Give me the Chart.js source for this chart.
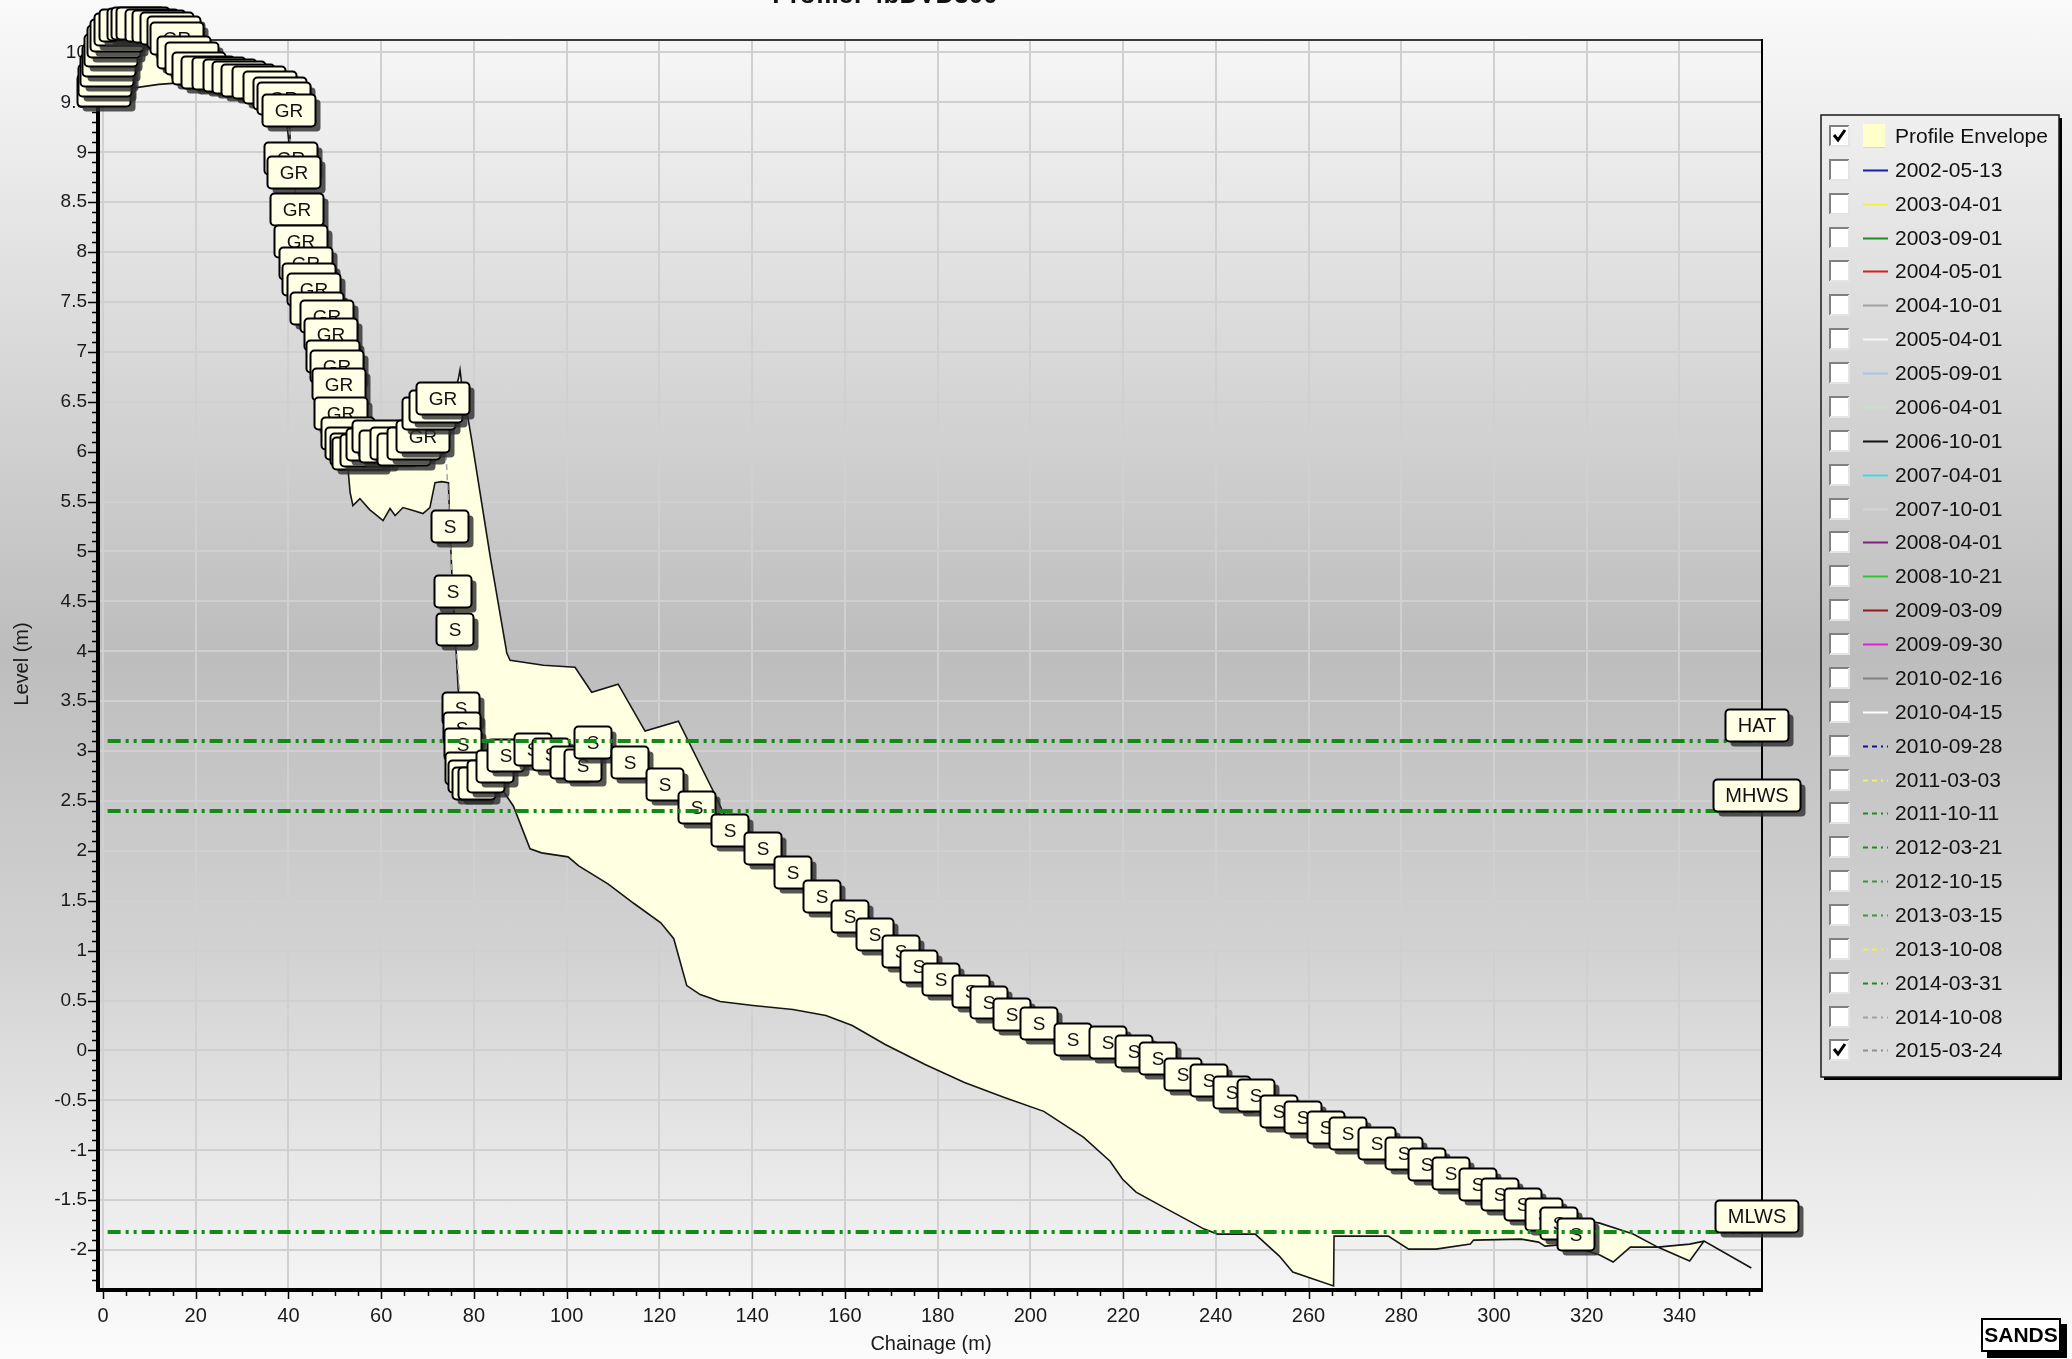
<!DOCTYPE html>
<html>
<head>
<meta charset="utf-8">
<title>Profile envelope</title>
<script src="https://cdn.jsdelivr.net/npm/chart.js@4.4.1/dist/chart.umd.min.js"></script>
<style>
    html, body { margin: 0; padding: 0; }
    body {
        width: 2072px; height: 1359px; overflow: hidden;
        background: linear-gradient(to bottom, #fafafa 0%, #d6d6d6 28%, #bdbdbd 48%, #d2d2d2 70%, #fcfcfc 100%);
    }
</style>
</head>
<body>
<canvas id="profileChart" width="2072" height="1359"></canvas>
<script>
const profileTitle = 'Profile: 4bDVD300';

const xTickValues = [0, 20, 40, 60, 80, 100, 120, 140, 160, 180, 200, 220, 240, 260, 280, 300, 320, 340];
const yTickValues = [-2, -1.5, -1, -0.5, 0, 0.5, 1, 1.5, 2, 2.5, 3, 3.5, 4, 4.5, 5, 5.5, 6, 6.5, 7, 7.5, 8, 8.5, 9, 9.5, 10];

// survey 2015-03-24 (the only one ticked besides the envelope)
const surveyChainage = [
    0.0, 0.4, 0.8, 1.2, 1.7, 2.3, 3.0, 3.8, 4.8, 6.5,
    7.5, 8.6, 10.4, 11.9, 13.6, 15.3, 15.9, 17.3, 19.0, 20.7,
    22.6, 25.0, 27.2, 29.3, 31.2, 33.6, 35.8, 38.0, 39.0, 40.1,
    40.5, 41.0, 41.8, 42.7, 43.6, 44.4, 45.3, 46.1, 48.1, 49.0,
    49.6, 50.3, 50.7, 51.3, 52.8, 53.5, 54.6, 55.2, 56.8, 58.2,
    59.5, 61.0, 63.2, 64.7, 66.9, 69.0, 70.3, 71.8, 73.3,
    74.8, 75.4, 75.9, 77.2, 77.4, 77.6, 77.8, 78.4, 79.2, 80.5,
    82.5, 84.5, 86.7, 92.7, 96.5, 100.3, 103.5, 105.6, 113.6, 121.0,
    128.1, 135.2, 142.2, 148.8, 155.0, 161.0, 166.4, 172.1, 175.8, 180.7,
    187.2, 190.9, 196.0, 201.8, 209.2, 216.6, 222.3, 227.4, 232.8, 238.5,
    243.4, 248.5, 253.6, 258.8, 263.6, 268.5, 274.7, 280.4, 285.5, 290.7,
    296.4, 301.2, 306.1, 310.6, 314.0, 317.5
];
const surveyLevel = [
    9.62, 9.72, 9.82, 9.92, 10.02, 10.11, 10.18, 10.24, 10.28, 10.29,
    10.30, 10.30, 10.28, 10.27, 10.25, 10.21, 10.15, 10.00, 9.94, 9.84,
    9.80, 9.79, 9.77, 9.75, 9.72, 9.70, 9.65, 9.59, 9.54, 9.42,
    8.94, 8.80, 8.43, 8.11, 7.89, 7.73, 7.63, 7.44, 7.36, 7.18,
    6.96, 6.86, 6.68, 6.39, 6.19, 6.09, 6.03, 5.99, 6.02, 6.08,
    6.16, 6.06, 6.09, 6.03, 6.09, 6.16, 6.39, 6.46, 6.54,
    5.26, 4.60, 4.22, 3.43, 3.23, 3.07, 2.83, 2.75, 2.68, 2.68,
    2.75, 2.85, 2.96, 3.02, 2.97, 2.89, 2.86, 3.09, 2.89, 2.67,
    2.44, 2.21, 2.03, 1.79, 1.55, 1.35, 1.17, 1.00, 0.85, 0.72,
    0.60, 0.49, 0.37, 0.28, 0.12, 0.08, -0.01, -0.08, -0.24, -0.30,
    -0.42, -0.45, -0.61, -0.67, -0.77, -0.83, -0.93, -1.03, -1.14, -1.23,
    -1.34, -1.44, -1.54, -1.64, -1.73, -1.84
];
const surveyCode = [
    'GR', 'GR', 'GR', 'GR', 'GR', 'GR', 'GR', 'GR', 'GR', 'GR',
    'GR', 'GR', 'GR', 'GR', 'GR', 'GR', 'GR', 'GR', 'GR', 'GR',
    'GR', 'GR', 'GR', 'GR', 'GR', 'GR', 'GR', 'GR', 'GR', 'GR',
    'GR', 'GR', 'GR', 'GR', 'GR', 'GR', 'GR', 'GR', 'GR', 'GR',
    'GR', 'GR', 'GR', 'GR', 'GR', 'GR', 'GR', 'GR', 'GR', 'GR',
    'GR', 'GR', 'GR', 'GR', 'GR', 'GR', 'GR', 'GR', 'GR',
    'S', 'S', 'S', 'S', 'S', 'S', 'S', 'S', 'S', 'S',
    'S', 'S', 'S', 'S', 'S', 'S', 'S', 'S', 'S', 'S',
    'S', 'S', 'S', 'S', 'S', 'S', 'S', 'S', 'S', 'S',
    'S', 'S', 'S', 'S', 'S', 'S', 'S', 'S', 'S', 'S',
    'S', 'S', 'S', 'S', 'S', 'S', 'S', 'S', 'S', 'S',
    'S', 'S', 'S', 'S', 'S', 'S'
];

// profile envelope: highest and lowest level of all surveys
const envUpperChainage = [
    0.0, 1.2, 2.3, 3.8, 6.5, 10.4, 13.6, 15.9, 17.3, 20.7,
    27.2, 33.6, 38.0, 40.1, 40.5, 42.7, 45.3, 48.1, 50.3, 51.3,
    52.8, 55.2, 59.5, 63.2, 69.0, 70.3, 73.3, 75.8, 76.6, 77.0,
    77.4, 78.3, 79.5, 83.5, 87.1, 87.8, 95.0, 101.8, 105.4, 111.1,
    116.9, 124.1, 131.6, 135.2, 142.2, 148.8, 155.0, 161.0, 166.4, 172.1,
    175.8, 180.7, 187.2, 190.9, 196.0, 201.8, 209.2, 216.6, 222.3, 227.4,
    232.8, 238.5, 243.4, 248.5, 253.6, 258.8, 263.6, 268.5, 274.7, 280.4,
    285.5, 290.7, 296.4, 301.2, 306.1, 310.6, 314.0, 317.5, 322.8, 330.0,
    335.3, 342.2, 345.3, 355.5
];
const envUpperLevel = [
    9.62, 9.95, 10.13, 10.26, 10.31, 10.30, 10.27, 10.17, 10.02, 9.86,
    9.79, 9.72, 9.61, 9.45, 8.96, 8.13, 7.65, 7.38, 6.88, 6.41,
    6.22, 6.05, 6.20, 6.12, 6.20, 6.42, 6.58, 6.62, 6.72, 6.82,
    6.66, 6.45, 6.12, 4.95, 3.98, 3.91, 3.86, 3.84, 3.59, 3.67,
    3.20, 3.30, 2.60, 2.24, 2.05, 1.81, 1.57, 1.37, 1.19, 1.02,
    0.87, 0.74, 0.62, 0.51, 0.39, 0.30, 0.14, 0.10, 0.01, -0.06,
    -0.22, -0.28, -0.40, -0.43, -0.59, -0.65, -0.75, -0.81, -0.91, -1.01,
    -1.12, -1.21, -1.32, -1.42, -1.52, -1.60, -1.65, -1.69, -1.73, -1.84,
    -1.97, -2.11, -1.91, -2.18
];
const envLowerChainage = [
    0.0, 2.0, 6.0, 12.0, 18.0, 25.0, 32.0, 37.0, 39.5, 40.6,
    42.0, 43.5, 45.5, 48.0, 49.5, 51.0, 52.5, 53.3, 53.9, 55.4,
    57.5, 60.4, 61.9, 63.0, 64.7, 66.9, 69.0, 70.5, 71.6, 73.0,
    74.5, 74.8, 75.4, 75.9, 76.6, 77.2, 77.6, 78.0, 79.2, 82.0,
    86.3, 88.5, 92.1, 94.6, 100.3, 102.6, 108.9, 114.6, 120.3, 123.1,
    125.9, 128.8, 133.1, 140.2, 148.8, 155.9, 161.6, 168.7, 177.3, 185.8,
    194.4, 202.9, 211.5, 217.2, 219.9, 222.8, 228.7, 237.5, 240.4, 248.5,
    253.7, 256.6, 265.4, 265.5, 277.2, 281.6, 287.5, 294.9, 295.6, 305.9,
    309.6, 311.0, 316.0, 319.5, 322.8, 325.7, 329.4, 335.3, 342.2, 345.3,
    355.5
];
const envLowerLevel = [
    9.55, 9.58, 9.64, 9.68, 9.70, 9.70, 9.64, 9.55, 9.35, 8.90,
    8.40, 7.90, 7.55, 7.30, 6.95, 6.50, 6.00, 5.59, 5.46, 5.53,
    5.42, 5.31, 5.43, 5.36, 5.44, 5.41, 5.38, 5.44, 5.69, 5.70,
    5.69, 5.26, 4.60, 4.22, 3.62, 3.43, 3.07, 2.80, 2.66, 2.64,
    2.60, 2.45, 2.02, 1.98, 1.94, 1.85, 1.67, 1.47, 1.28, 1.12,
    0.65, 0.56, 0.49, 0.45, 0.41, 0.35, 0.25, 0.06, -0.14, -0.32,
    -0.47, -0.61, -0.87, -1.11, -1.29, -1.42, -1.57, -1.79, -1.84, -1.84,
    -2.06, -2.22, -2.36, -1.86, -1.86, -1.99, -1.99, -1.94, -1.90, -1.89,
    -1.92, -1.96, -1.94, -2.00, -2.05, -2.12, -1.97, -1.97, -1.94, -1.91,
    -2.18
];

// tide levels
const tideNames = ['HAT', 'MHWS', 'MLWS'];
const tideLevels = [3.1, 2.4, -1.82];

// surveys listed in the legend
const surveyDates = [
    '2002-05-13', '2003-04-01', '2003-09-01', '2004-05-01', '2004-10-01', '2005-04-01',
    '2005-09-01', '2006-04-01', '2006-10-01', '2007-04-01', '2007-10-01', '2008-04-01',
    '2008-10-21', '2009-03-09', '2009-09-30', '2010-02-16', '2010-04-15', '2010-09-28',
    '2011-03-03', '2011-10-11', '2012-03-21', '2012-10-15', '2013-03-15', '2013-10-08',
    '2014-03-31', '2014-10-08', '2015-03-24'
];
const surveyColours = [
    '#1c1cb0', '#f2f040', '#1f8a1f', '#d42020', '#a0a0a0', '#f6f6f6',
    '#a8c4e8', '#c8e2c8', '#101010', '#40d8e0', '#d6d6d6', '#802080',
    '#30c830', '#901818', '#e020e0', '#808080', '#ffffff', '#1010a0',
    '#f0f060', '#1f8a1f', '#1f8a1f', '#3a9a3a', '#3a9a3a', '#f0f040',
    '#1f8a1f', '#a0a0a0', '#909090'
];
const surveyTicked = [
    false, false, false, false, false, false, false, false, false, false,
    false, false, false, false, false, false, false, false, false, false,
    false, false, false, false, false, false, true
];
// from 2010-09-28 on the legend samples are dashed
const firstDashedSurvey = 17;

const FONT = '"Liberation Sans", Arial, sans-serif';

function tagBox(ctx, cx, cy, text, size) {
    ctx.font = size + 'px ' + FONT;
    const w = Math.round(ctx.measureText(text).width + 24);
    const h = 32;
    const x = Math.round(cx - w / 2) + 0.5;
    const y = Math.round(cy - h / 2) + 0.5;
    ctx.fillStyle = 'rgba(45, 45, 45, 0.8)';
    ctx.beginPath();
    ctx.roundRect(x + 5, y + 5, w, h, 4);
    ctx.fill();
    ctx.fillStyle = '#ffffe6';
    ctx.strokeStyle = '#000000';
    ctx.lineWidth = 2;
    ctx.beginPath();
    ctx.roundRect(x, y, w, h, 4);
    ctx.fill();
    ctx.stroke();
    ctx.fillStyle = '#111111';
    ctx.textAlign = 'center';
    ctx.textBaseline = 'middle';
    ctx.fillText(text, x + w / 2, y + h / 2 + 1);
    return {x: x, y: y, w: w, h: h};
}

document.addEventListener('DOMContentLoaded', function () {
    const ctx = document.getElementById('profileChart')?.getContext('2d');
    if (!ctx) return;

    Chart.defaults.font.family = FONT;

    const xMin = -0.65, xMax = 357.8, yMin = -2.39, yMax = 10.135;

    const toPoints = (xs, ys) => xs.map((x, i) => ({x: x, y: ys[i]}));
    const upper = toPoints(envUpperChainage, envUpperLevel);
    const lower = toPoints(envLowerChainage, envLowerLevel);
    const envelope = upper.concat(lower.slice().reverse(), [upper[0]]);
    const survey = toPoints(surveyChainage, surveyLevel);

    const tideSets = tideNames.map((name, i) => ({
        label: name,
        data: [{x: 1, y: tideLevels[i]}, {x: xMax, y: tideLevels[i]}],
        showLine: true,
        borderColor: '#14891a',
        borderWidth: 4,
        borderDash: [13, 5, 3, 5, 3, 5],
        pointRadius: 0,
        fill: false,
        order: 1
    }));

    // labels on each survey point, drawn right after the survey line
    const surveyTags = {
        id: 'surveyTags',
        afterDatasetDraw(chart, args) {
            if (chart.data.datasets[args.index].label !== '2015-03-24') return;
            const c = chart.ctx;
            c.save();
            args.meta.data.forEach((pt, i) => tagBox(c, pt.x, pt.y, surveyCode[i], 19));
            c.restore();
        }
    };

    const axesDecor = {
        id: 'axesDecor',
        beforeDatasetsDraw(chart) {
            const {ctx: c, chartArea: a, scales: {x, y}} = chart;
            c.save();
            c.strokeStyle = '#3c3c3c';
            c.lineWidth = 2;
            c.beginPath();
            c.moveTo(a.left, a.top + 1);
            c.lineTo(a.right, a.top + 1);
            c.stroke();
            c.strokeStyle = '#000000';
            c.beginPath();
            c.moveTo(a.right, a.top);
            c.lineTo(a.right, a.bottom);
            c.stroke();

            c.lineWidth = 4;
            c.beginPath();
            c.moveTo(a.left - 2, a.top);
            c.lineTo(a.left - 2, a.bottom + 3);
            c.moveTo(a.left - 4, a.bottom + 1);
            c.lineTo(a.right + 1, a.bottom + 1);
            c.stroke();

            c.lineWidth = 1.5;
            c.beginPath();
            for (let k = 0; k * 5 <= xMax; k++) {
                const px = Math.round(x.getPixelForValue(k * 5)) + 0.5;
                const len = k % 4 === 0 ? 7 : 4;
                c.moveTo(px, a.bottom + 3);
                c.lineTo(px, a.bottom + 3 + len);
            }
            for (let k = -23; k <= 101; k++) {
                const py = Math.round(y.getPixelForValue(k / 10)) + 0.5;
                const len = k % 5 === 0 ? 8 : 4;
                c.moveTo(a.left - 4, py);
                c.lineTo(a.left - 4 - len, py);
            }
            c.stroke();
            c.restore();
        },
        afterDraw(chart) {
            const {ctx: c, chartArea: a, scales: {y}} = chart;
            c.save();
            // tide labels sit on the end of their lines
            tideNames.forEach((name, i) => {
                const py = y.getPixelForValue(tideLevels[i]);
                tagBox(c, a.right - 6, py - 16, name, 20);
            });

            // cut-off title at the very top
            c.font = 'bold 26px ' + FONT;
            c.fillStyle = '#111111';
            c.textAlign = 'center';
            c.textBaseline = 'alphabetic';
            c.fillText(profileTitle, 885, 3);

            drawLegend(c);

            // SANDS logo
            c.fillStyle = '#000000';
            c.fillRect(1987, 1324, 80, 34);
            c.fillStyle = '#ffffff';
            c.fillRect(1982, 1319, 78, 32);
            c.strokeStyle = '#000000';
            c.lineWidth = 2;
            c.strokeRect(1982, 1319, 78, 32);
            c.fillStyle = '#000000';
            c.font = 'bold 21px "Liberation Sans Narrow", ' + FONT;
            c.textAlign = 'center';
            c.textBaseline = 'middle';
            c.fillText('SANDS', 2021, 1336);
            c.restore();
        }
    };

    function drawCheck(c, x, y, ticked) {
        c.fillStyle = '#ffffff';
        c.fillRect(x, y, 20, 21);
        c.strokeStyle = '#808080';
        c.lineWidth = 2;
        c.beginPath();
        c.moveTo(x + 1, y + 21);
        c.lineTo(x + 1, y + 1);
        c.lineTo(x + 20, y + 1);
        c.stroke();
        c.strokeStyle = '#e4e4e4';
        c.beginPath();
        c.moveTo(x + 20, y + 1);
        c.lineTo(x + 20, y + 21);
        c.lineTo(x + 1, y + 21);
        c.stroke();
        if (ticked) {
            c.strokeStyle = '#000000';
            c.lineWidth = 3;
            c.beginPath();
            c.moveTo(x + 5, y + 10);
            c.lineTo(x + 9, y + 15);
            c.lineTo(x + 16, y + 5);
            c.stroke();
        }
    }

    function drawLegend(c) {
        const L = 1821, T = 115, R = 2059, B = 1077;
        const rowTop = 136, rowStep = 33.87;
        c.fillStyle = '#000000';
        c.fillRect(R, T + 3, 3, B - T);
        c.fillRect(L + 3, B, R - L, 3);
        c.strokeStyle = '#1a1a1a';
        c.lineWidth = 1.5;
        c.strokeRect(L, T, R - L, B - T);

        c.font = '21px ' + FONT;
        c.textAlign = 'left';
        c.textBaseline = 'middle';

        // envelope row
        drawCheck(c, 1829, rowTop - 11, true);
        c.fillStyle = '#ffffcc';
        c.fillRect(1863, rowTop - 12, 22, 24);
        c.fillStyle = '#e6dca0';
        c.fillRect(1863, rowTop + 11, 22, 1);
        c.fillStyle = '#111111';
        c.fillText('Profile Envelope', 1895, rowTop + 1);

        surveyDates.forEach((d, i) => {
            const ry = Math.round(rowTop + (i + 1) * rowStep);
            drawCheck(c, 1829, ry - 11, surveyTicked[i]);
            c.strokeStyle = surveyColours[i];
            c.lineWidth = 2;
            c.setLineDash(i >= firstDashedSurvey ? [5, 4, 5, 4, 2, 4] : []);
            c.beginPath();
            c.moveTo(1863, ry + 0.5);
            c.lineTo(1888, ry + 0.5);
            c.stroke();
            c.setLineDash([]);
            c.fillStyle = '#111111';
            c.fillText(d, 1895, ry + 1);
        });
    }

    new Chart(ctx, {
        type: 'scatter',
        data: {
            datasets: [
                ...tideSets,
                {
                    label: '2015-03-24',
                    data: survey,
                    showLine: true,
                    borderColor: '#a4a4a4',
                    borderWidth: 1.5,
                    borderDash: [6, 4],
                    pointRadius: 0,
                    fill: false,
                    order: 2
                },
                {
                    label: 'Profile Envelope',
                    data: envelope,
                    showLine: true,
                    borderColor: '#151515',
                    borderWidth: 1.6,
                    backgroundColor: '#ffffe2',
                    pointRadius: 0,
                    fill: 'shape',
                    order: 3
                }
            ]
        },
        options: {
            responsive: false,
            animation: false,
            layout: {padding: {top: 39, right: 310, left: 0, bottom: 0}},
            plugins: {
                legend: {display: false},
                tooltip: {enabled: false}
            },
            scales: {
                x: {
                    type: 'linear',
                    min: xMin,
                    max: xMax,
                    afterBuildTicks: s => { s.ticks = xTickValues.map(v => ({value: v})); },
                    afterFit: s => { s.height = 70; },
                    grid: {color: '#d0d0d0', lineWidth: 2, drawTicks: false},
                    border: {display: false},
                    ticks: {
                        padding: 15, color: '#1a1a1a', font: {size: 20},
                        maxRotation: 0, autoSkip: false,
                        callback: v => String(v)
                    },
                    title: {
                        display: true, text: 'Chainage (m)', color: '#1a1a1a',
                        font: {size: 20}, padding: {top: 0, bottom: 3}
                    }
                },
                y: {
                    type: 'linear',
                    min: yMin,
                    max: yMax,
                    afterBuildTicks: s => { s.ticks = yTickValues.map(v => ({value: v})); },
                    afterFit: s => { s.width = 100; },
                    grid: {color: '#d0d0d0', lineWidth: 2, drawTicks: false},
                    border: {display: false},
                    ticks: {
                        padding: 13, color: '#1a1a1a', font: {size: 19},
                        autoSkip: false,
                        callback: v => String(v)
                    },
                    title: {
                        display: true, text: 'Level (m)', color: '#1a1a1a',
                        font: {size: 20}, padding: {top: 10, bottom: 0}
                    }
                }
            }
        },
        plugins: [axesDecor, surveyTags]
    });
});
</script>
</body>
</html>
